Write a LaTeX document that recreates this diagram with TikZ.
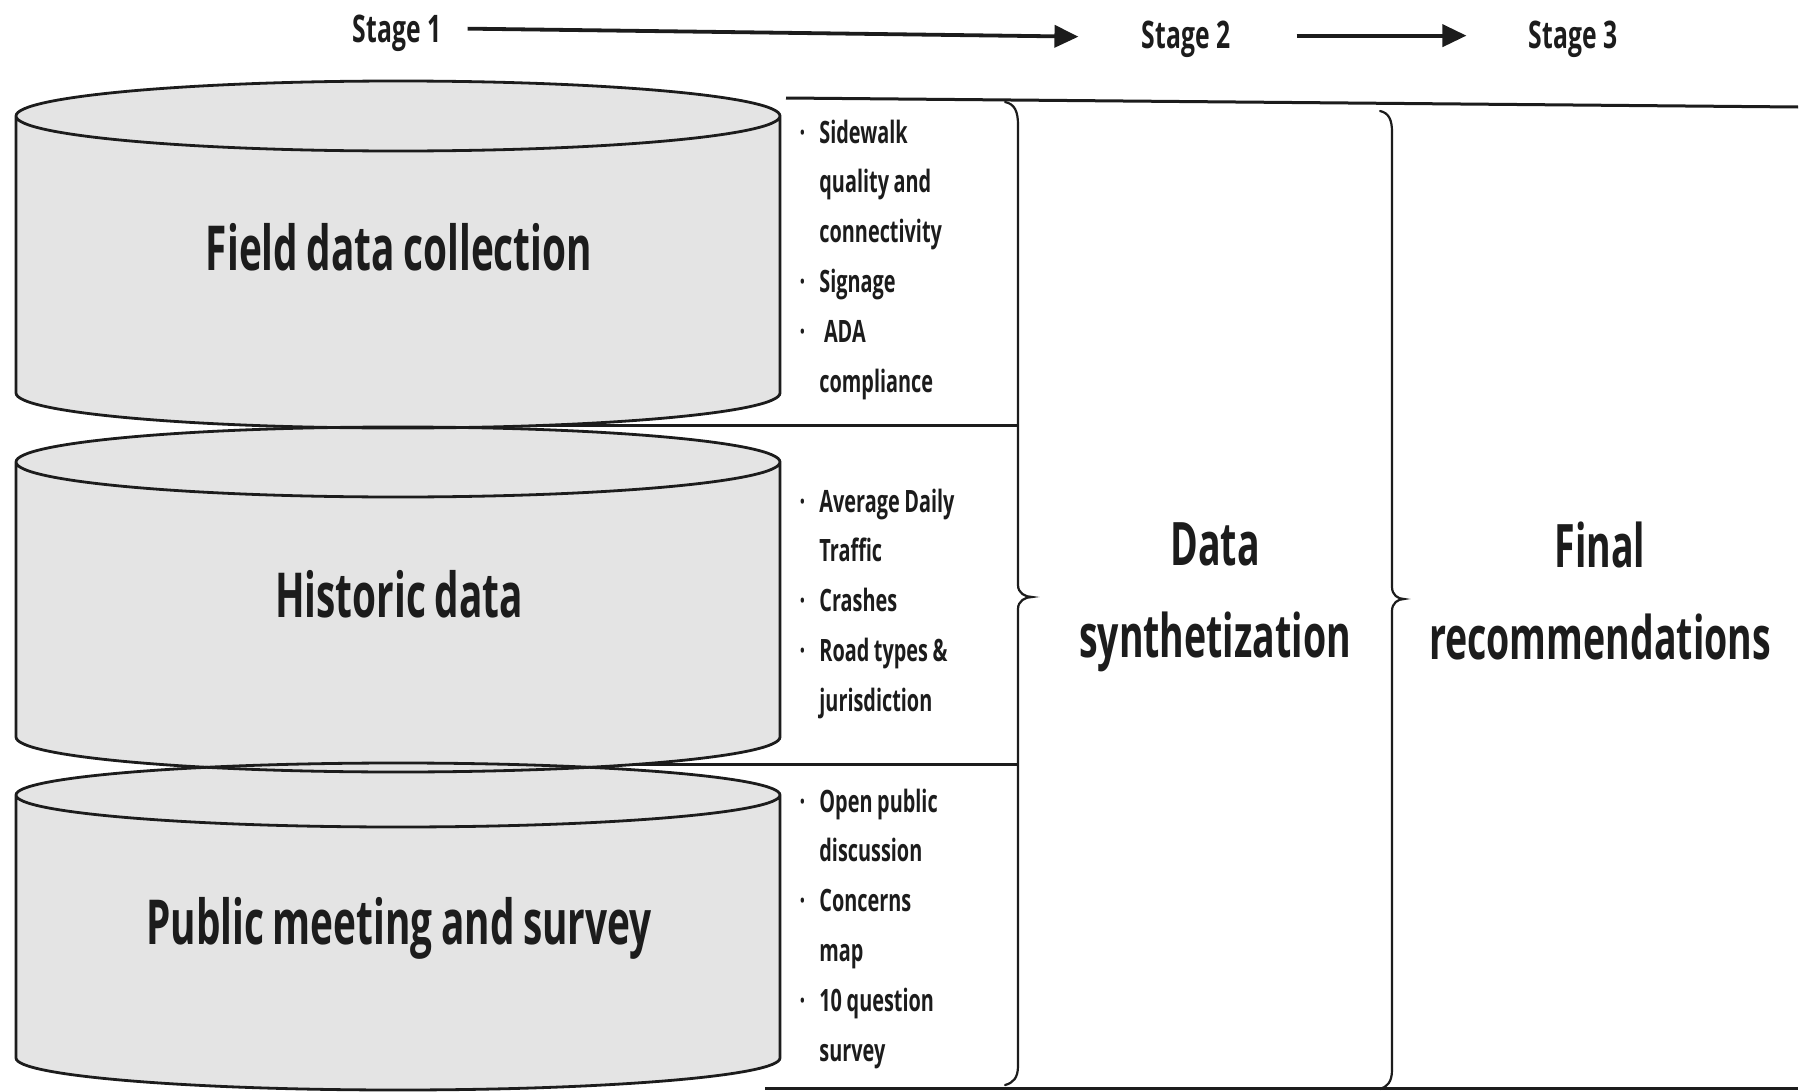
\documentclass[tikz,border=0pt]{standalone}
\usepackage{fontspec}
\setmainfont{Open Sans}[FakeStretch=0.65]
\newfontfamily\bigfont{Open Sans}[FakeStretch=0.625,WordSpace=0.85]
\newfontfamily\stagefont{Open Sans}[FakeStretch=0.65]
\newfontfamily\bulfont{Open Sans}[FakeStretch=0.645]
\usetikzlibrary{arrows.meta}
\definecolor{cylfill}{RGB}{228,228,228}
\definecolor{ink}{RGB}{28,28,28}
\newcommand\bu{\makebox[0pt][r]{·\hspace{7pt}}}
\newcommand\tightsp{\spaceskip=2.3pt plus 0.5pt\relax}
\newcommand\cylfill[3]{%
  \fill[cylfill] (16,#1) -- (16,#2) arc[start angle=180,end angle=0,x radius=382,y radius=#3]
    -- (780,#1) arc[start angle=0,end angle=-180,x radius=382,y radius=#3] -- cycle;}
\newcommand\cyldraw[3]{%
  \draw[cylline] (16,#1) -- (16,#2) arc[start angle=180,end angle=0,x radius=382,y radius=#3]
    -- (780,#1) arc[start angle=0,end angle=-180,x radius=382,y radius=#3]
    arc[start angle=180,end angle=0,x radius=382,y radius=#3];}
\begin{document}
\begin{tikzpicture}[x=0.5pt,y=-0.5pt,
  cylline/.style={draw=ink,line width=1.4pt},
  sepline/.style={draw=ink,line width=1.5pt},
  braceline/.style={draw=ink,line width=1.1pt,line cap=round},
  arr/.style={draw=ink,line width=1.9pt,-{Triangle[length=12pt,width=11pt]}},
  stagetxt/.style={inner sep=0pt,anchor=base,text=ink,font=\stagefont\fontsize{19}{23}\selectfont\bfseries},
  cyltxt/.style={inner sep=0pt,anchor=base,text=ink,font=\bigfont\fontsize{31}{40}\selectfont\bfseries},
  bigtxt/.style={inner sep=0pt,anchor=base,text=ink,align=center,text width=220pt,font=\bigfont\fontsize{30}{46}\selectfont\bfseries},
  bullets/.style={inner sep=0pt,anchor=base west,text=ink,align=left,text width=110pt,
    font=\bulfont\fontsize{15.4}{24.9}\selectfont\bfseries}]
\useasboundingbox (0,0) rectangle (1805,1092);
\fill[white] (0,0) rectangle (1805,1092);

% stage header
\node[stagetxt] (s1) at (397,42) {Stage 1};
\node[stagetxt] (s2) at (1186,48) {Stage 2};
\node[stagetxt] (s3) at (1573,48) {Stage 3};
\draw[arr] ([xshift=13pt,yshift=4pt]s1.mid east) -- ([xshift=-31.5pt,yshift=3pt]s2.mid west);
\draw[arr] ([xshift=33pt,yshift=3.5pt]s2.mid east) -- ([xshift=-31pt,yshift=3.5pt]s3.mid west);

% separator lines (behind cylinders)
\draw[sepline] (420,425) -- (1018,425);
\draw[sepline] (420,764) -- (1018,764);

% cylinders
\cylfill{795}{1058}{32}
\cylfill{462}{737}{35}
\cylfill{116}{393}{35}
\cyldraw{795}{1058}{32}
\cyldraw{462}{737}{35}
\cyldraw{116}{393}{35}

\node[cyltxt] (c1) at (399,270) {Field data collection};
\node[cyltxt] (c2) at (399,617) {Historic data};
\node[cyltxt] (c3) at (399,944) {Public meeting and survey};

% bullet lists
\node[bullets] (l1) at (819,143) {\tightsp\bu Sidewalk\\quality and\\connectivity\\\bu Signage\\\bu\ ADA\\compliance};
\node[bullets] (l2) at (819,512) {\tightsp\bu Average Daily\\Traffic\\\bu Crashes\\\bu Road types \&\\jurisdiction};
\node[bullets] (l3) at (819,812) {\tightsp\bu Open public\\discussion\\\bu Concerns\\map\\\bu 10 question\\survey};

% frame lines
\draw[sepline] (786,98) -- (1798,107);
\draw[sepline] (765,1088) -- (1798,1088);

% braces
\draw[braceline] (1005,102) .. controls (1015,104) and (1018,112) .. (1018,125) -- (1018,585)
  .. controls (1018,593) and (1025,597) .. (1032,597)
  .. controls (1025,597) and (1018,601) .. (1018,609) -- (1018,1066)
  .. controls (1018,1078) and (1013,1083) .. (1005,1085);
\draw[braceline] (1380,111) .. controls (1389,113) and (1392,120) .. (1392,132) -- (1392,587)
  .. controls (1392,595) and (1398,599) .. (1404,599)
  .. controls (1398,599) and (1392,603) .. (1392,611) -- (1392,1070)
  .. controls (1392,1082) and (1387,1087) .. (1380,1089);

% stage labels
\node[bigtxt] (ds) at (1215,565) {Data\\synthetization};
\node[bigtxt] (fr) at (1600,567) {Final\\recommendations};
\end{tikzpicture}
\end{document}
